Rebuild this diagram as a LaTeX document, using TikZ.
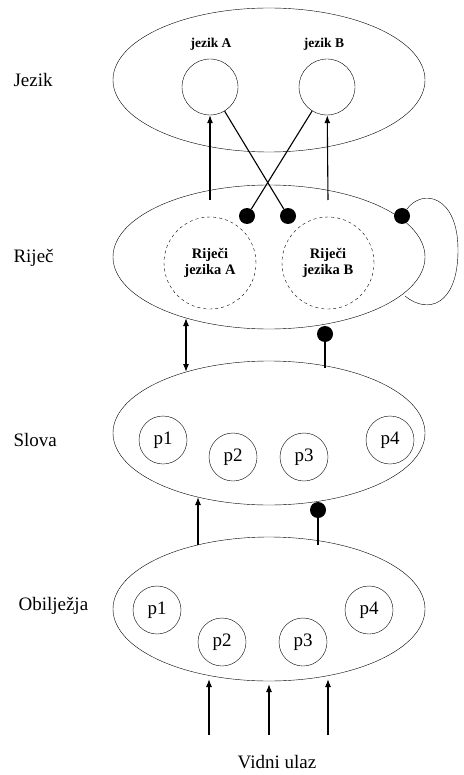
\documentclass[tikz,border=0pt]{standalone}
\usepackage{fontspec}
\setmainfont{Liberation Serif}
\usetikzlibrary{shapes.geometric,arrows.meta}

\begin{document}
\begin{tikzpicture}[x=1pt,y=-1pt]
    \tikzstyle{layer} = [ellipse, draw, thin, inner sep=0pt, minimum width=312pt, minimum height=144pt]
    \tikzstyle{unit} = [circle, draw, thin, inner sep=0pt, minimum size=48pt, font=\fontsize{19}{21}\selectfont]
    \tikzstyle{lang} = [circle, draw, thin, inner sep=0pt, minimum size=56pt]
    \tikzstyle{wordset} = [circle, draw, thin, dashed, inner sep=0pt, minimum size=92pt, align=center, font=\bfseries\fontsize{14.5}{16}\selectfont]
    \tikzstyle{dot} = [circle, fill, inner sep=0pt, minimum size=16pt]
    \tikzstyle{lbl} = [anchor=west, font=\fontsize{19}{21}\selectfont]
    \tikzstyle{arr} = [line width=1.1pt, -{Latex[length=8pt,width=6pt]}]
    \tikzstyle{inh} = [line width=1.1pt]
    \useasboundingbox (0,0) rectangle (463,775);
    % layers
    \node[layer] (jez) at (269,80) {}; \node[layer] (rij) at (269,257) {};
    \node[layer] (slo) at (269,433) {}; \node[layer] (obi) at (269,609) {};
    \node[lbl] at (10,80) {Jezik}; \node[lbl] at (10,258) {Riječ};
    \node[lbl] at (10,440) {Slova}; \node[lbl] at (15,606) {Obilježja};
    % jezik
    \node[lang] (jA) at (210,87) {}; \node[lang] (jB) at (327,87) {};
    \node[font=\bfseries\fontsize{13.5}{15}\selectfont] at (211,44) {jezik A};
    \node[font=\bfseries\fontsize{13.5}{15}\selectfont] at (324,44) {jezik B};
    % rijec
    \node[wordset] (rA) at (210,263) {Riječi\\jezika A}; \node[wordset] (rB) at (328,263) {Riječi\\jezika B};
    \node[dot] (d1) at (247,216) {}; \node[dot] (d2) at (288,216) {}; \node[dot] (d3) at (402,216) {};
    \coordinate (uA) at (210,200); \coordinate (uB) at (328,200);
    \draw[arr] (uA) -- (jA); \draw[arr] (uB) -- (jB);
    \draw[inh] (jA) -- (d2); \draw[inh] (jB) -- (d1);
    \coordinate (lp) at (405,296);
    \draw[thin] (d3) .. controls (422,188) and (458,195) .. (458,250) .. controls (458,305) and (428,315) .. (lp);
    % slova
    \node[unit] (s1) at (163,440) {p1}; \node[unit] (s2) at (233,457) {p2};
    \node[unit] (s3) at (304,457) {p3}; \node[unit] (s4) at (390,440) {p4};
    \coordinate (rs1) at (186,318); \coordinate (rs2) at (186,372);
    \draw[line width=1.1pt, {Latex[length=8pt,width=6pt]}-{Latex[length=8pt,width=6pt]}] (rs1) -- (rs2);
    \node[dot] (d4) at (325,334) {}; \coordinate (rs3) at (325,368);
    \draw[inh] (rs3) -- (d4);
    % obiljezja
    \node[unit] (o1) at (157,610) {p1}; \node[unit] (o2) at (222,642) {p2};
    \node[unit] (o3) at (303,642) {p3}; \node[unit] (o4) at (369,610) {p4};
    \coordinate (so1) at (198,545); \coordinate (so2) at (198,497);
    \draw[arr] (so1) -- (so2);
    \node[dot] (d5) at (318,510) {}; \coordinate (so3) at (318,545);
    \draw[inh] (so3) -- (d5);
    % ulaz
    \node[font=\fontsize{19}{21}\selectfont, inner sep=1pt] (ulaz) at (277,762) {Vidni ulaz};
    \foreach \x/\y in {209/679, 269/684, 328/679} {
        \coordinate (in\x) at (\x,735); \coordinate (to\x) at (\x,\y);
        \draw[arr] (in\x) -- (to\x);
    }
\end{tikzpicture}
\end{document}
